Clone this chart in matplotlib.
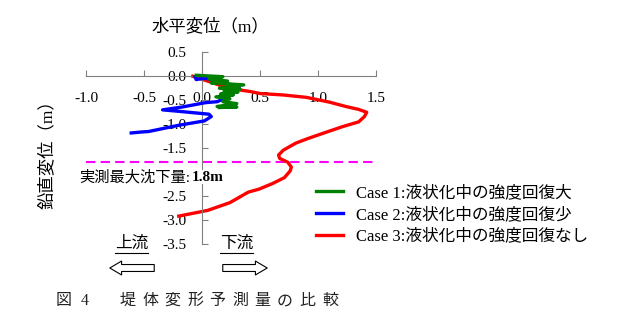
import numpy as np
import matplotlib.pyplot as plt
from matplotlib.lines import Line2D
from matplotlib.patches import FancyArrowPatch

# データ (水平変位, 鉛直変位) [m]
case1_x = [-0.05, 0.18, 0.06, 0.22, 0.08, 0.36, 0.15, 0.33, 0.19, 0.31, 0.16, 0.27, 0.12, 0.24, 0.18, 0.30, 0.13, 0.30, 0.15]
case1_y = [0.01, -0.02, -0.07, -0.11, -0.15, -0.19, -0.26, -0.28, -0.32, -0.34, -0.38, -0.40, -0.44, -0.48, -0.54, -0.58, -0.64, -0.65, -0.66]

case2_x = [-0.06, -0.05, 0.02, 0.12, 0.22, 0.32, 0.25, 0.27, 0.20, 0.13, 0.03, -0.17, -0.34, -0.20, 0.06, 0.08, 0.02, -0.20, -0.46, -0.52, -0.61]
case2_y = [-0.02, -0.08, -0.05, -0.10, -0.16, -0.24, -0.30, -0.38, -0.47, -0.54, -0.56, -0.65, -0.71, -0.74, -0.80, -0.85, -0.94, -1.03, -1.16, -1.17, -1.19]

case3_x = [-0.08, 0.06, 0.18, 0.28, 0.42, 0.50, 0.70, 0.90, 1.10, 1.24, 1.35, 1.42, 1.40, 1.35, 1.21, 1.04, 0.92, 0.81,
           0.70, 0.66, 0.67, 0.74, 0.77, 0.76, 0.71, 0.61, 0.49, 0.40, 0.24, 0.05, -0.20]
case3_y = [-0.01, -0.12, -0.22, -0.28, -0.33, -0.37, -0.40, -0.45, -0.55, -0.64, -0.70, -0.76, -0.85, -0.96, -1.06, -1.20, -1.30, -1.40,
           -1.55, -1.65, -1.72, -1.80, -1.90, -1.98, -2.12, -2.24, -2.36, -2.42, -2.64, -2.80, -2.92]

labels = ['Case 1:液状化中の強度回復大', 'Case 2:液状化中の強度回復少', 'Case 3:液状化中の強度回復なし']
colors = ['#008000', '#0000FF', '#FF0000']
max_settlement = -1.8

serif_jp = ['Liberation Serif', 'Noto Sans CJK JP']
plt.rcParams['font.family'] = serif_jp

W, H = 620, 328
fig = plt.figure(figsize=(W / 100, H / 100), dpi=100)
ax = fig.add_axes([86 / W, 1 - 244 / H, 290 / W, 192.3 / H])

ax.plot(case1_x, case1_y, color=colors[0], lw=2.4, label=labels[0], zorder=4)
ax.plot(case2_x, case2_y, color=colors[1], lw=2.4, label=labels[1], zorder=3)
ax.plot(case3_x, case3_y, color=colors[2], lw=2.4, label=labels[2], zorder=2)
ax.axhline(max_settlement, color='#FF00FF', lw=1.5, dashes=(4.5, 2.5), zorder=1)

ax.set_xlim(-1.0, 1.5)
ax.set_ylim(-3.5, 0.5)
ax.set_xticks(np.arange(-1.0, 1.51, 0.5))
ax.set_yticks(np.arange(-3.5, 0.51, 0.5))
ax.xaxis.set_major_formatter(plt.FormatStrFormatter('%.1f'))
# -2.0 の目盛ラベルは注記に隠れている
ax.yaxis.set_major_formatter(plt.FuncFormatter(lambda v, p: '' if abs(v + 2.0) < 1e-6 else '%.1f' % v))

ax.spines['left'].set_position(('data', 0))
ax.spines['bottom'].set_position(('data', 0))
ax.spines['top'].set_visible(False)
ax.spines['right'].set_visible(False)
for s in ['left', 'bottom']:
    ax.spines[s].set_color('#808080')
ax.tick_params(axis='x', direction='in', length=4, pad=12, color='#808080', labelsize=11)
ax.tick_params(axis='y', direction='in', length=4, pad=11, color='#808080', labelsize=11)

fig.text(210 / W, 1 - 27 / H, '水平変位（m）', ha='center', va='center', fontsize=12.5)
fig.text(47 / W, 1 - 150 / H, '鉛直変位（m）', ha='center', va='center', fontsize=12.5, rotation=90)

# 実測最大沈下量 (白地で軸線を隠す)
t = ax.text(-1.06, -2.11, '実測最大沈下量:', ha='left', va='center', fontsize=11, zorder=5,
            bbox=dict(facecolor='white', edgecolor='none', pad=1))
ax.annotate('1.8m', xy=(1, 0.5), xycoords=t, xytext=(1, 0), textcoords='offset points',
            ha='left', va='center', fontsize=11, fontweight='bold', zorder=6,
            bbox=dict(facecolor='white', edgecolor='none', pad=0.5))

leg = ax.legend(loc='upper left', bbox_to_anchor=(316 / W, 1 - 185 / H), bbox_transform=fig.transFigure,
                frameon=False, fontsize=12, handlelength=1.6, handletextpad=0.8, labelspacing=0.35,
                borderpad=0, borderaxespad=0)

# 上流 / 下流
for txt, x0, x1, xa, xb in [('上流', 115, 148, 157, 107), ('下流', 220, 253, 220, 270)]:
    fig.text((x0 + x1) / 2 / W, 1 - 244 / H, txt, ha='center', va='center', fontsize=12)
    fig.add_artist(Line2D([x0 / W, x1 / W], [1 - 253 / H, 1 - 253 / H], color='black', lw=0.8))
    fig.add_artist(FancyArrowPatch(
        (xa / W, 1 - 268 / H), (xb / W, 1 - 268 / H), transform=fig.transFigure,
        arrowstyle='simple,head_length=8.5,head_width=10,tail_width=5', mutation_scale=1,
        fc='white', ec='black', lw=0.8))

# キャプション
caption = '図4堤体変形予測量の比較'
cx = [64, 85] + [127.5 + 22.5 * i for i in range(10)]
for ch, x in zip(caption, cx):
    fig.text(x / W, 1 - 301 / H, ch, ha='center', va='center', fontsize=11.5, color='#222222')

fig.savefig('out.png', dpi=100)
